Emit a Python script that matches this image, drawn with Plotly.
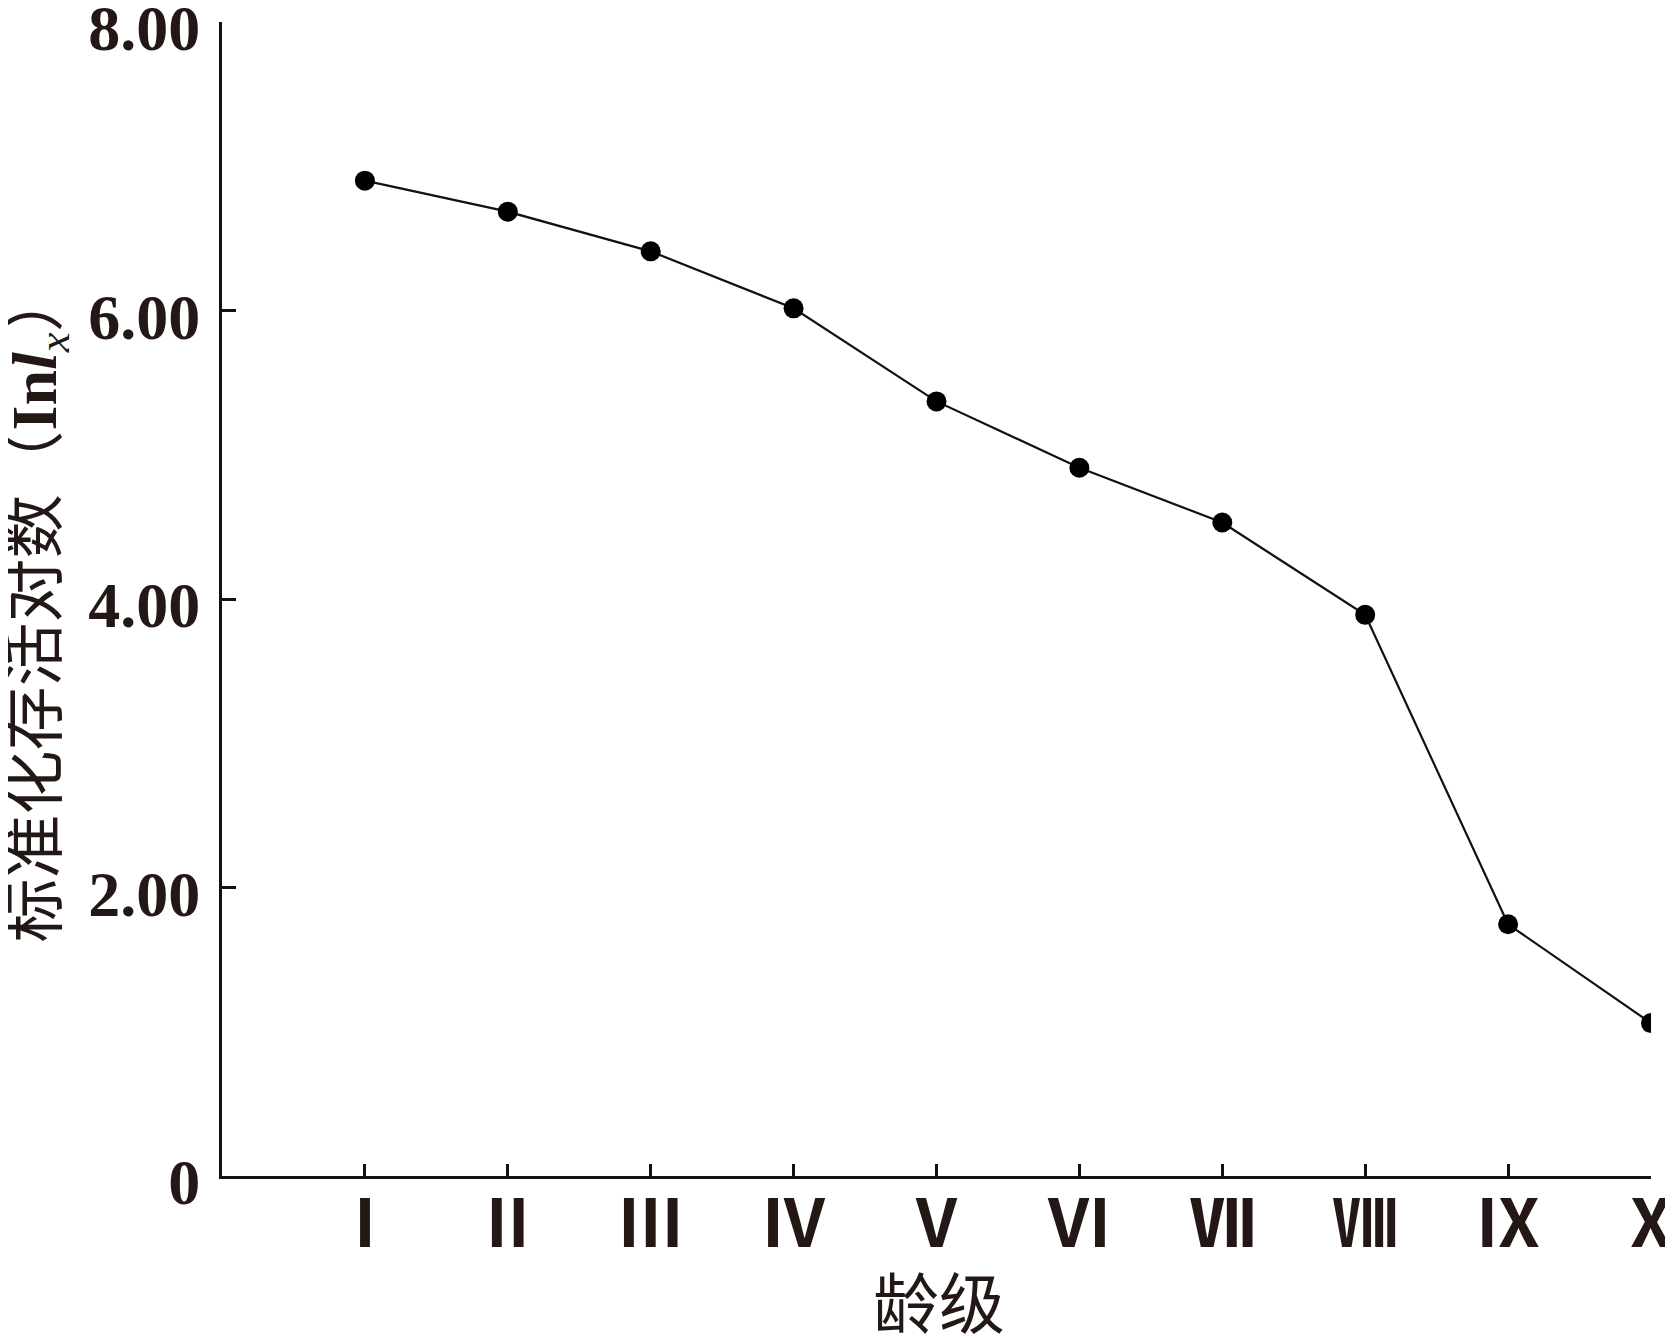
import plotly.graph_objects as go

# age classes and standardized survival log values (ln lx)
age_classes = ["Ⅰ", "Ⅱ", "Ⅲ", "Ⅳ", "Ⅴ", "Ⅵ", "Ⅶ", "Ⅷ", "Ⅸ", "Ⅹ"]
ln_lx = [6.90, 6.685, 6.41, 6.015, 5.37, 4.91, 4.53, 3.89, 1.745, 1.06]

y_ticks = [0, 2, 4, 6, 8]
y_tick_text = ["0", "2.00", "4.00", "6.00", "8.00"]

ink = "#231815"
serif = "Liberation Serif, DejaVu Serif, serif"
cjk = "Noto Sans CJK SC, sans-serif"

fig = go.Figure()
fig.add_trace(go.Scatter(
    x=list(range(len(age_classes))), y=ln_lx,
    mode="lines+markers",
    line=dict(color="#111111", width=2.2),
    marker=dict(color="#000000", size=20),
    showlegend=False,
))

fig.update_layout(
    width=1673, height=1338,
    margin=dict(l=214, r=30, t=14, b=170, autoexpand=False),
    plot_bgcolor="white", paper_bgcolor="white",
    font=dict(family=serif, color=ink),
)

fig.update_xaxes(
    range=[-1, 9], automargin=False,
    tickvals=list(range(len(age_classes))), ticktext=age_classes,
    ticks="inside", ticklen=12, tickwidth=3, tickcolor="#111111",
    tickfont=dict(family=cjk, size=66, color=ink, weight="bold"),
    ticklabeloverflow="allow", ticklabelstandoff=-11,
    showline=True, linecolor="#111111", linewidth=3,
    showgrid=False, zeroline=False,
)

fig.update_yaxes(
    range=[0, 8], automargin=False,
    tickvals=y_ticks, ticktext=y_tick_text,
    ticks="inside", ticklen=14, tickwidth=3, tickcolor="#111111",
    tickfont=dict(family=serif, size=64, color=ink, weight="bold"),
    ticklabeloverflow="allow", ticklabelstandoff=6, ticklabelshift=6,
    showline=True, linecolor="#111111", linewidth=3,
    showgrid=False, zeroline=False,
)

# axis titles placed as annotations for tighter control
fig.add_annotation(
    text="龄级", xref="paper", yref="paper", x=0.502, y=-0.107,
    xanchor="center", yanchor="middle", showarrow=False,
    font=dict(family=cjk, size=66, color=ink),
)
fig.add_annotation(
    text="标准化存活对数（<span style='font-family:Liberation Serif'><b>In<i>l</i></b><sub><i>x</i></sub></span>）",
    xref="paper", yref="paper", x=-0.134, y=0.494,
    xanchor="center", yanchor="middle", textangle=-90, showarrow=False,
    font=dict(family=cjk, size=64, color=ink),
)

fig.write_html("out.html")
